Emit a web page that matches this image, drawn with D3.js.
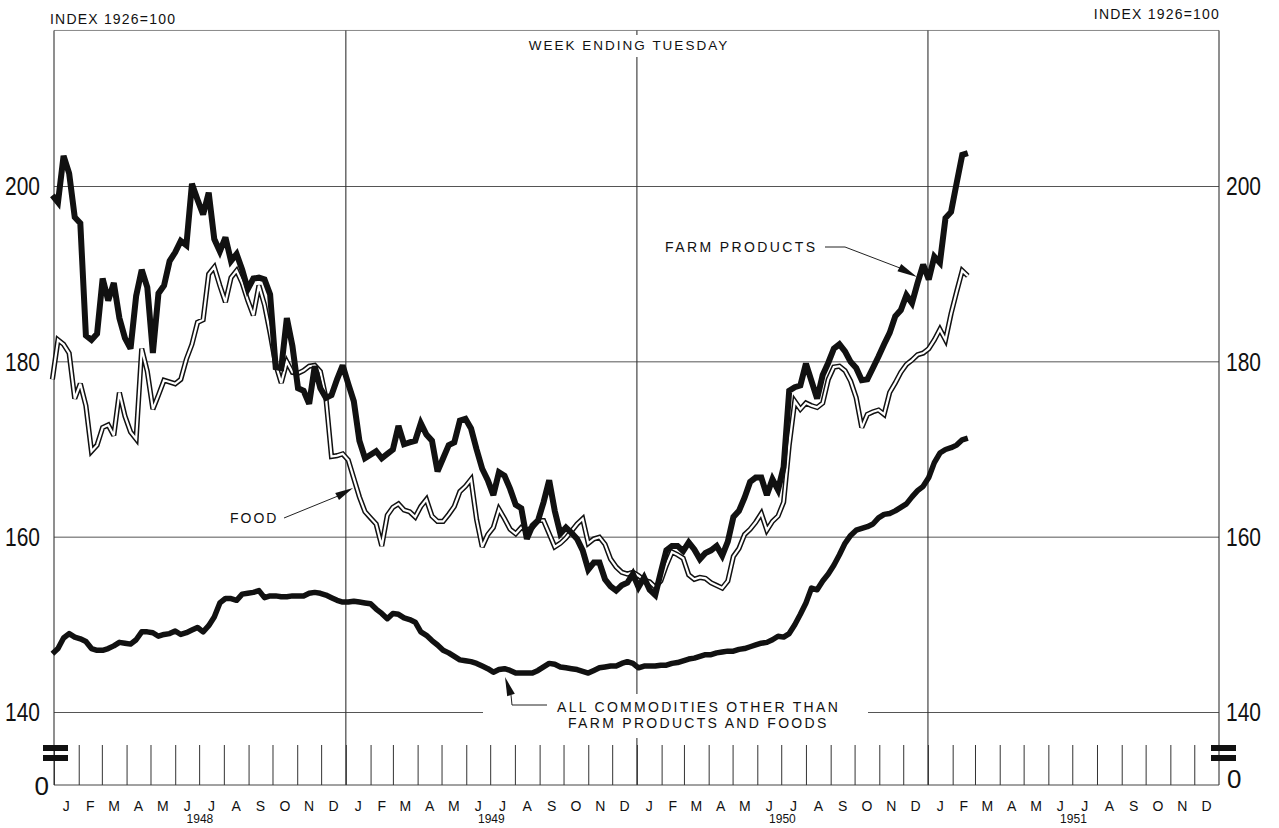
<!DOCTYPE html>
<html lang="en">
<head>
<meta charset="UTF-8">
<title>Wholesale price indexes, week ending Tuesday</title>
<script src="https://d3js.org/d3.v7.min.js"></script>
<style>
  body { margin: 0; background: #fff; }
  svg text { font-family: "Liberation Sans", Arial, sans-serif; fill: #111; }
</style>
</head>
<body>
<div id="chart"></div>
<script>
// weekly index numbers (1926 = 100), first week ends Tue Dec 30 1947
const farmProducts = [
  199.0, 198.2, 203.5, 201.5, 196.5, 195.8, 183.0, 182.5, 183.2, 189.5,
  187.0, 189.0, 185.0, 182.7, 181.5, 187.5, 190.5, 188.5, 181.0, 187.8,
  188.7, 191.5, 192.5, 193.8, 193.3, 200.3, 198.5, 196.8, 199.3, 194.0,
  192.6, 194.2, 191.5, 192.3, 190.5, 188.3, 189.5, 189.6, 189.4, 187.7,
  179.4, 179.3, 185.0, 181.8, 177.0, 176.7, 175.2, 179.5, 177.0, 175.9,
  176.2, 178.0,
  179.6, 177.5, 175.5, 171.0, 169.0, 169.4, 169.8, 169.0, 169.5, 170.0,
  172.7, 170.6, 170.8, 171.0, 173.0, 171.7, 171.0, 167.5, 169.0, 170.5,
  170.8, 173.3, 173.5, 172.4, 170.0, 167.8, 166.5, 164.8, 167.4, 167.0,
  165.5, 163.7, 163.3, 159.8, 161.3, 161.9, 164.0, 166.5, 163.0, 160.4,
  161.1, 160.5, 159.8, 158.5, 156.3, 157.1, 157.1, 155.2, 154.4, 153.9,
  154.5, 154.8,
  155.8, 154.3, 155.4, 154.0, 153.4, 156.0, 158.5, 159.0, 159.0, 158.4,
  159.4, 158.6, 157.5, 158.2, 158.5, 159.0, 157.9, 159.5, 162.3, 163.0,
  164.5, 166.3, 166.8, 166.8, 164.8, 166.6, 165.4, 168.0, 176.7, 177.1,
  177.3, 179.8, 177.8, 175.8, 178.5, 179.9, 181.5, 182.0, 181.2, 180.0,
  179.3, 177.9, 178.0, 179.3, 180.6, 182.0, 183.3, 185.2, 185.9, 187.6,
  186.7, 189.0,
  191.1, 189.4, 192.0, 191.3, 196.4, 197.1, 200.4, 203.6, 203.8
];

const food = [
  178.0, 182.5, 182.0, 181.0, 175.8, 177.5, 175.0, 169.8, 170.5, 172.5,
  172.8, 171.6, 176.5, 173.8, 172.0, 171.2, 181.5, 178.9, 174.6, 176.2,
  177.9, 177.7, 177.5, 178.0, 180.3, 182.0, 184.5, 184.8, 190.0, 190.8,
  188.7, 186.8, 189.6, 190.4, 189.0, 187.0, 185.3, 188.7, 186.5, 183.3,
  179.7, 177.6, 180.0, 178.8, 178.7, 179.0, 179.5, 179.6, 178.9, 175.9,
  169.2, 169.3,
  169.5, 168.8, 166.7, 164.6, 162.9, 162.2, 161.5, 159.0, 162.5, 163.4,
  163.8, 163.1, 162.9, 162.3, 163.5, 164.3, 162.4, 161.8, 161.8, 162.6,
  163.5, 165.2, 165.8, 166.6, 162.0, 158.9, 160.3, 161.1, 163.2, 162.1,
  160.9, 160.4, 161.1, 160.8, 161.1, 161.9, 161.9, 160.4, 158.9, 159.3,
  159.9, 160.7, 161.5, 162.1, 159.3, 159.8, 160.0, 159.2, 157.5, 156.6,
  156.0, 155.8,
  156.0, 155.6, 155.1, 154.9, 154.3, 155.0, 156.8, 158.3, 158.0, 157.6,
  155.7, 155.2, 155.4, 155.3, 154.8, 154.5, 154.2, 155.0, 157.8, 158.7,
  160.3, 160.9, 161.7, 162.7, 160.8, 161.8, 162.4, 164.0, 170.5, 175.5,
  174.6, 175.3, 175.0, 174.8, 175.3, 178.0, 179.4, 179.5, 179.0, 177.8,
  175.9, 172.5, 174.0, 174.3, 174.5, 174.0, 176.5, 177.6, 178.8, 179.7,
  180.2, 180.8,
  181.0, 181.5, 182.5, 183.7, 182.5, 185.5, 188.0, 190.4, 189.8
];

const otherCommodities = [
  146.7, 147.3, 148.5, 149.0, 148.6, 148.4, 148.1, 147.3, 147.1, 147.1,
  147.3, 147.6, 148.0, 147.9, 147.8, 148.3, 149.2, 149.2, 149.1, 148.7,
  148.9, 149.0, 149.3, 148.9, 149.1, 149.4, 149.7, 149.2, 149.9, 150.9,
  152.5, 153.0, 153.0, 152.8, 153.5, 153.6, 153.7, 153.9, 153.1, 153.3,
  153.3, 153.2, 153.2, 153.3, 153.3, 153.3, 153.6, 153.7, 153.6, 153.4,
  153.1, 152.8,
  152.6, 152.6, 152.7, 152.6, 152.5, 152.4, 151.8, 151.3, 150.7, 151.3,
  151.2, 150.8, 150.6, 150.3, 149.2, 148.8, 148.2, 147.7, 147.1, 146.8,
  146.4, 146.0, 145.9, 145.8, 145.6, 145.3, 145.0, 144.6, 144.9, 145.0,
  144.8, 144.5, 144.5, 144.5, 144.5, 144.8, 145.2, 145.6, 145.5, 145.2,
  145.1, 145.0, 144.9, 144.7, 144.5, 144.8, 145.1, 145.2, 145.3, 145.3,
  145.6, 145.8,
  145.6, 145.1, 145.3, 145.3, 145.3, 145.4, 145.4, 145.6, 145.7, 145.9,
  146.1, 146.2, 146.4, 146.6, 146.6, 146.8, 146.9, 147.0, 147.0, 147.2,
  147.3, 147.5, 147.7, 147.9, 148.0, 148.3, 148.7, 148.6, 149.0, 150.0,
  151.2, 152.5, 154.2, 154.0, 155.0, 155.8, 156.8, 158.0, 159.3, 160.2,
  160.8, 161.0, 161.2, 161.5, 162.2, 162.6, 162.7, 163.0, 163.4, 163.8,
  164.6, 165.3,
  165.8, 166.8, 168.5, 169.6, 170.0, 170.2, 170.5, 171.1, 171.3
];

const monthLetters = ["J", "F", "M", "A", "M", "J", "J", "A", "S", "O", "N", "D"];
const years = [1948, 1949, 1950, 1951];
const gridValues = [140, 160, 180, 200];

const width = 1279, height = 828;
const left = 54, right = 1219;
const zeroY = 785;

const firstWeek = new Date(1947, 11, 30);
const weeks = farmProducts.map((_, i) => d3.timeDay.offset(firstWeek, 7 * i));

const x = d3.scaleTime()
    .domain([new Date(years[0], 0, 1), new Date(years[years.length - 1] + 1, 0, 1)])
    .range([left, right]);
const y = d3.scaleLinear().domain([140, 200]).range([712.5, 186.5]);
const topY = y(217.8);

const svg = d3.select("#chart").append("svg")
    .attr("width", width)
    .attr("height", height)
    .attr("viewBox", [0, 0, width, height]);

// grid
svg.append("line")
    .attr("x1", left).attr("x2", right).attr("y1", topY).attr("y2", topY)
    .attr("stroke", "#888").attr("stroke-width", 1);

svg.append("g")
    .selectAll("line")
    .data(gridValues)
    .join("line")
    .attr("x1", left).attr("x2", right)
    .attr("y1", d => y(d)).attr("y2", d => y(d))
    .attr("stroke", "#555").attr("stroke-width", 1);

const yearStarts = years.slice(1).map(yr => new Date(yr, 0, 1));
svg.append("g")
    .selectAll("line")
    .data([x.domain()[0], ...yearStarts, x.domain()[1]])
    .join("line")
    .attr("x1", d => x(d)).attr("x2", d => x(d))
    .attr("y1", topY).attr("y2", zeroY)
    .attr("stroke", "#333").attr("stroke-width", 1.1);

// month ticks on the broken part of the axis
const monthStarts = d3.timeMonth.range(x.domain()[0], x.domain()[1]);
const monthAxis = svg.append("g")
    .attr("transform", `translate(0,${zeroY})`)
    .call(d3.axisBottom(x).tickValues(monthStarts).tickSize(-40).tickFormat(""));
monthAxis.select(".domain").attr("stroke", "#444").attr("d", `M${left},0H${right}`);
monthAxis.selectAll(".tick line").attr("stroke", "#333").attr("stroke-width", 1);

svg.append("g")
    .selectAll("text")
    .data(monthStarts)
    .join("text")
    .attr("x", d => (x(d) + x(d3.timeMonth.offset(d, 1))) / 2)
    .attr("y", zeroY + 26)
    .attr("text-anchor", "middle")
    .attr("font-size", 14)
    .text(d => monthLetters[d.getMonth()]);

svg.append("g")
    .selectAll("text")
    .data(years)
    .join("text")
    .attr("x", d => (x(new Date(d, 0, 1)) + x(new Date(d + 1, 0, 1))) / 2)
    .attr("y", 823)
    .attr("text-anchor", "middle")
    .attr("font-size", 12)
    .text(d => d);

// value scales on both sides
function styleValueAxis(g) {
  g.select(".domain").remove();
  g.selectAll("text")
      .attr("font-size", 26)
      .attr("font-family", "'Liberation Sans', Arial, sans-serif")
      .attr("fill", "#111")
      .attr("textLength", 35)
      .attr("lengthAdjust", "spacingAndGlyphs");
}
svg.append("g")
    .attr("transform", `translate(${left},0)`)
    .call(d3.axisLeft(y).tickValues(gridValues).tickSize(0).tickPadding(14))
    .call(styleValueAxis);
svg.append("g")
    .attr("transform", `translate(${right},0)`)
    .call(d3.axisRight(y).tickValues(gridValues).tickSize(0).tickPadding(7))
    .call(styleValueAxis);

svg.append("text").attr("x", 49).attr("y", zeroY + 1).attr("dy", "0.35em")
    .attr("text-anchor", "end").attr("font-size", 26).text("0");
svg.append("text").attr("x", 1227).attr("y", zeroY - 6).attr("dy", "0.35em")
    .attr("font-size", 26).text("0");

// axis break marks
[[43, 25], [1211, 25]].forEach(([bx, bw]) => {
  [zeroY - 40, zeroY - 30].forEach(by => {
    svg.append("rect").attr("x", bx).attr("y", by).attr("width", bw).attr("height", 6).attr("fill", "#111");
  });
});

// headings
svg.append("rect").attr("x", 518).attr("y", 35).attr("width", 222).attr("height", 22).attr("fill", "#fff");
svg.append("text").attr("x", 629).attr("y", 50).attr("text-anchor", "middle")
    .attr("font-size", 13.5).attr("letter-spacing", 2).text("WEEK ENDING TUESDAY");
svg.append("text").attr("x", 50).attr("y", 24)
    .attr("font-size", 14).attr("letter-spacing", 1.2).text("INDEX 1926=100");
svg.append("text").attr("x", 1220).attr("y", 19).attr("text-anchor", "end")
    .attr("font-size", 14).attr("letter-spacing", 1.2).text("INDEX 1926=100");

// series
const line = d3.line()
    .x((d, i) => x(weeks[i]))
    .y(d => y(d));

svg.append("path").datum(food)
    .attr("fill", "none").attr("stroke", "#111").attr("stroke-width", 5.2)
    .attr("stroke-linejoin", "miter").attr("stroke-miterlimit", 3)
    .attr("d", line);
svg.append("path").datum(food)
    .attr("fill", "none").attr("stroke", "#fff").attr("stroke-width", 2.2)
    .attr("stroke-linejoin", "miter").attr("stroke-miterlimit", 3)
    .attr("d", line);

svg.append("path").datum(farmProducts)
    .attr("fill", "none").attr("stroke", "#111").attr("stroke-width", 6)
    .attr("stroke-linejoin", "miter").attr("stroke-miterlimit", 3)
    .attr("d", line);

svg.append("path").datum(otherCommodities)
    .attr("fill", "none").attr("stroke", "#111").attr("stroke-width", 5.5)
    .attr("stroke-linejoin", "round")
    .attr("d", line);

// annotations
function arrowHead(tip, from, len, half) {
  const dx = tip[0] - from[0], dy = tip[1] - from[1];
  const d = Math.hypot(dx, dy), ux = dx / d, uy = dy / d;
  const bx = tip[0] - ux * len, by = tip[1] - uy * len;
  return [tip, [bx - uy * half, by + ux * half], [bx + uy * half, by - ux * half]];
}
function drawArrow(points, tip, len, half) {
  svg.append("path")
      .attr("d", d3.line()(points))
      .attr("fill", "none").attr("stroke", "#222").attr("stroke-width", 1);
  svg.append("polygon")
      .attr("points", arrowHead(tip, points[points.length - 1], len, half).join(" "))
      .attr("fill", "#111");
}

svg.append("text").attr("x", 665).attr("y", 252)
    .attr("font-size", 14).attr("letter-spacing", 2.4).text("FARM PRODUCTS");
drawArrow([[825, 247], [845, 247], [900, 268]], [917, 277], 20, 4);

svg.append("text").attr("x", 230).attr("y", 523)
    .attr("font-size", 14).attr("letter-spacing", 2).text("FOOD");
drawArrow([[284, 518], [338, 496]], [353, 488], 18, 4);

svg.append("rect").attr("x", 483).attr("y", 694).attr("width", 385).attr("height", 44).attr("fill", "#fff");
drawArrow([[547, 705], [512, 705], [511, 695]], [505, 677], 19, 4);
svg.append("text").attr("x", 557).attr("y", 712)
    .attr("font-size", 14).attr("letter-spacing", 2.3).text("ALL COMMODITIES OTHER THAN");
svg.append("text").attr("x", 568).attr("y", 728)
    .attr("font-size", 14).attr("letter-spacing", 2.3).text("FARM PRODUCTS AND FOODS");
</script>
</body>
</html>
